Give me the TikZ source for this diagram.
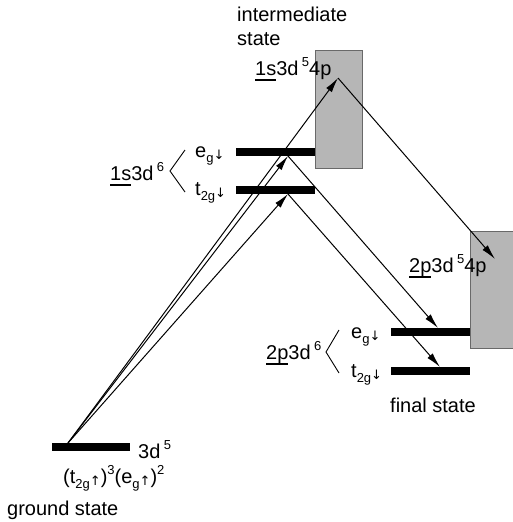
\documentclass[tikz,border=0pt]{standalone}
\usepackage{fontspec}
\setmainfont{Liberation Sans}
\newfontfamily\arrowfont{DejaVu Sans}
\usetikzlibrary{arrows.meta, positioning}
\definecolor{bandGray}{RGB}{182,182,182}
\definecolor{bandEdge}{RGB}{105,105,105}
% small raised / lowered indices and spin arrows
\newsavebox{\ulbox}
\newcommand{\supx}[1]{\,\raisebox{0.42em}{\fontsize{13}{13}\selectfont #1}}
\newcommand{\supn}[1]{\raisebox{0.42em}{\fontsize{13}{13}\selectfont #1}}
\newcommand{\subx}[1]{\raisebox{-0.28em}{\fontsize{13}{13}\selectfont #1}}
\newcommand{\spdn}{\raisebox{-0.1em}{\arrowfont\fontsize{13}{13}\selectfont ↓}}
\newcommand{\spup}{\raisebox{-0.1em}{\arrowfont\fontsize{13}{13}\selectfont ↑}}
\newcommand{\uln}[1]{\sbox{\ulbox}{#1}\rlap{\rule[-5.5pt]{\wd\ulbox}{1.2pt}}\usebox{\ulbox}}
\tikzset{
    levels/.style={>={Latex[length=15pt, width=7pt]}, line cap=butt,
                   font=\fontsize{20}{24}\selectfont},
    level/.style={fill=black, inner sep=0pt, minimum width=79pt,
                  minimum height=8pt},
    band/.style={draw=bandEdge, fill=bandGray, line width=0.6pt, inner sep=0pt},
    trans/.style={->, line width=1pt, draw=black},
    split/.style={line width=0.9pt},
    txt/.style={inner sep=0pt, anchor=base west},
}

\begin{document}
\begin{tikzpicture}[levels, x=1pt, y=-1pt]
\useasboundingbox (0,0) rectangle (512,522);

% ─── Bandes 4p ──────────────────────────────────────────────────────────
\node[band, minimum width=47pt, minimum height=118pt] (band1s) at (338.5,109) {};
\node[band, minimum width=60pt, minimum height=117pt] (band2p) at (500,289.5) {};

% ─── Niveaux ────────────────────────────────────────────────────────────
\node[level, minimum width=78pt] (gnd) at (91,447) {};
\node[level] (ieg)  at (275.5,152) {};
\node[level] (it2g) at (275.5,190) {};
\node[level] (feg)  at (430.5,332) {};
\node[level] (ft2g) at (430.5,371) {};

% points of the transitions
\coordinate (g0)  at (68,443);
\coordinate (i4p) at (338,78);
\coordinate (ie)  at (288,156);
\coordinate (it)  at (288,194);
\coordinate (f4p) at (495,259);
\coordinate (fe)  at (438,328);
\coordinate (ft)  at (440,367);

% ─── Transitions ────────────────────────────────────────────────────────
\draw[trans] (g0) -- (i4p);
\draw[trans] (g0) -- (ie);
\draw[trans] (g0) -- (it);
\draw[trans] (i4p) -- (f4p);
\draw[trans] (ie) -- (fe);
\draw[trans] (it) -- (ft);

% ─── Textes ─────────────────────────────────────────────────────────────
\node[txt] (imid)   at (237,21) {intermediate};
\node[txt] (istate) at ([yshift=-24pt]imid.base west) {state};
\node[txt] (i4plbl) at (255,75)  {\uln{1s}3d\supx{5}4p};
\node[txt] (i6lbl)  at (110,180) {\uln{1s}3d\supx{6}};
\node[txt] (ieglbl) at (195,157) {e\subx{g}\spdn};
\node[txt] (itlbl)  at (195,195) {t\subx{2g}\spdn};

\node[txt] (f4plbl) at (409,272) {\uln{2p}3d\supx{5}4p};
\node[txt] (f6lbl)  at (266,359) {\uln{2p}3d\supx{6}};
\node[txt] (feglbl) at (351,338) {e\subx{g}\spdn};
\node[txt] (ftlbl)  at (351,377) {t\subx{2g}\spdn};
\node[txt] (final)  at (390,412) {final state};

\node[txt] (g5lbl)  at (138,458) {3d\supx{5}};
\node[txt] (gconf)  at (63,483)
    {(t\subx{2g}\spup)\supn{3}(e\subx{g}\spup)\supn{2}};
\node[txt] (ground) at (7,515) {ground state};

% brackets
\coordinate (ib) at (170,171);
\coordinate (fb) at (326,352);
\draw[split] (185,150) -- (ib) -- (185,192);
\draw[split] (339,330) -- (fb) -- (339,373);

\end{tikzpicture}
\end{document}
